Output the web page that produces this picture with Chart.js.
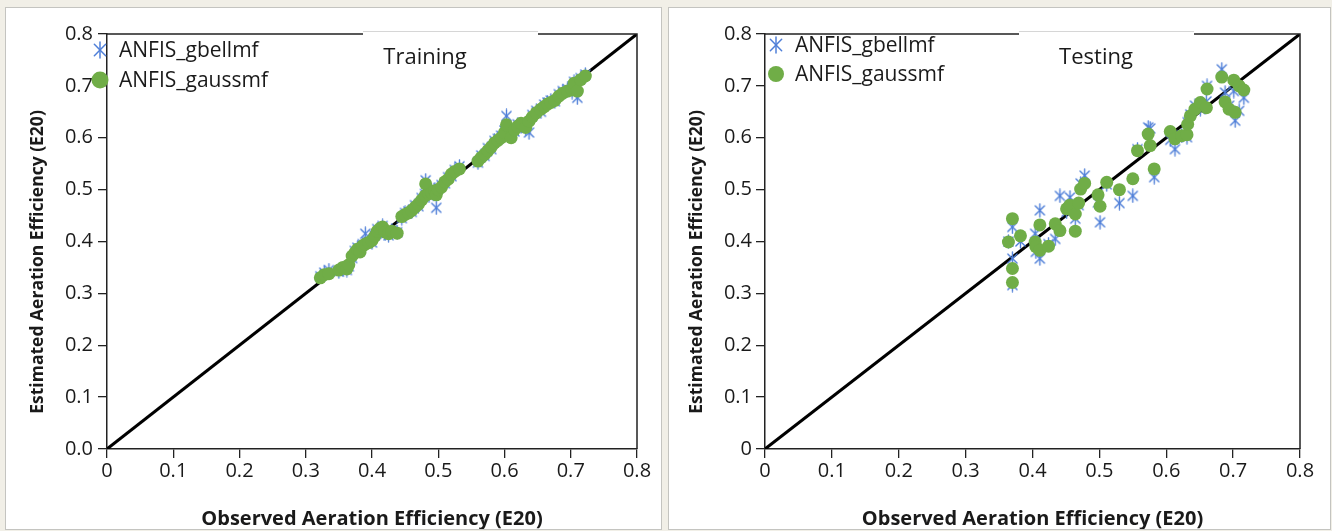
<!DOCTYPE html>
<html>
<head>
<meta charset="utf-8">
<script src="https://cdn.jsdelivr.net/npm/chart.js@4.4.1/dist/chart.umd.min.js"></script>
<style>
  html, body { margin: 0; padding: 0; }
  body { width: 1332px; height: 531px; background: #f1efe7; position: relative; overflow: hidden; }
  .panel { position: absolute; top: 7px; height: 521px; background: #fff; border: 1px solid #c4c4c0; }
  #p1 { left: 5px; width: 655px; }
  #p2 { left: 668px; width: 661px; }
  canvas { display: block; }
</style>
</head>
<body>
<div class="panel" id="p1"><canvas id="trainChart" width="655" height="521"></canvas></div>
<div class="panel" id="p2"><canvas id="testChart" width="661" height="521"></canvas></div>
<script>
const tickValues = [0, 0.1, 0.2, 0.3, 0.4, 0.5, 0.6, 0.7, 0.8];
const xTickLabels = ['0', '0.1', '0.2', '0.3', '0.4', '0.5', '0.6', '0.7', '0.8'];
const yTickLabelsTraining = ['0.0', '0.1', '0.2', '0.3', '0.4', '0.5', '0.6', '0.7', '0.8'];
const yTickLabelsTesting = ['0', '0.1', '0.2', '0.3', '0.4', '0.5', '0.6', '0.7', '0.8'];
const seriesNames = ['ANFIS_gbellmf', 'ANFIS_gaussmf'];
const refLine = [0, 0.8];

// Training: observed vs estimated
const trainObs = [0.322, 0.328, 0.335, 0.350, 0.356, 0.362, 0.365, 0.370, 0.374, 0.378, 0.382, 0.386, 0.390, 0.395,
  0.400, 0.404, 0.408, 0.412, 0.416, 0.420, 0.425, 0.430, 0.438, 0.445, 0.450, 0.455, 0.460, 0.465, 0.470, 0.475,
  0.480, 0.481, 0.486, 0.490, 0.495, 0.497, 0.500, 0.505, 0.510, 0.515, 0.520, 0.525, 0.532, 0.560, 0.565, 0.570,
  0.575, 0.580, 0.585, 0.590, 0.595, 0.600, 0.603, 0.610, 0.615, 0.620, 0.625, 0.632, 0.637, 0.642, 0.648, 0.655,
  0.660, 0.665, 0.670, 0.676, 0.682, 0.688, 0.695, 0.702, 0.705, 0.710, 0.715, 0.722];
const trainGauss = [0.330, 0.336, 0.338, 0.345, 0.350, 0.347, 0.355, 0.372, 0.378, 0.385, 0.380, 0.392, 0.395, 0.398,
  0.402, 0.410, 0.420, 0.425, 0.428, 0.418, 0.415, 0.420, 0.416, 0.448, 0.452, 0.455, 0.460, 0.466, 0.472, 0.480,
  0.488, 0.511, 0.492, 0.494, 0.498, 0.490, 0.500, 0.505, 0.515, 0.520, 0.530, 0.535, 0.540, 0.555, 0.562, 0.568,
  0.575, 0.582, 0.590, 0.595, 0.600, 0.610, 0.625, 0.600, 0.615, 0.622, 0.628, 0.620, 0.632, 0.640, 0.648, 0.655,
  0.660, 0.665, 0.668, 0.672, 0.680, 0.686, 0.690, 0.692, 0.705, 0.690, 0.712, 0.719];
const trainGbell = [0.333, 0.340, 0.345, 0.342, 0.346, 0.345, 0.352, 0.368, 0.382, 0.388, 0.384, 0.395, 0.415, 0.400,
  0.398, 0.412, 0.424, 0.420, 0.430, 0.415, 0.412, 0.422, 0.418, 0.445, 0.455, 0.458, 0.457, 0.470, 0.468, 0.484,
  0.492, 0.518, 0.488, 0.497, 0.500, 0.465, 0.503, 0.509, 0.512, 0.524, 0.526, 0.538, 0.545, 0.552, 0.566, 0.565,
  0.580, 0.578, 0.594, 0.598, 0.604, 0.614, 0.642, 0.604, 0.612, 0.626, 0.624, 0.618, 0.610, 0.644, 0.652, 0.650,
  0.664, 0.668, 0.672, 0.670, 0.684, 0.690, 0.694, 0.688, 0.708, 0.677, 0.715, 0.722];

// Testing: observed vs estimated
const testObs = [0.364, 0.370, 0.370, 0.370, 0.382, 0.404, 0.405, 0.411, 0.411, 0.424, 0.434, 0.441, 0.451, 0.456,
  0.464, 0.464, 0.469, 0.472, 0.478, 0.498, 0.501, 0.511, 0.530, 0.550, 0.557, 0.573, 0.576, 0.582, 0.606, 0.613,
  0.623, 0.631, 0.632, 0.636, 0.643, 0.651, 0.660, 0.661, 0.683, 0.688, 0.694, 0.701, 0.703, 0.709, 0.716];
const testGauss = [0.399, 0.444, 0.348, 0.321, 0.411, 0.399, 0.390, 0.432, 0.383, 0.391, 0.434, 0.421, 0.463, 0.470,
  0.420, 0.453, 0.474, 0.501, 0.512, 0.490, 0.468, 0.514, 0.500, 0.521, 0.575, 0.607, 0.585, 0.540, 0.612, 0.598,
  0.604, 0.606, 0.626, 0.642, 0.655, 0.668, 0.658, 0.694, 0.717, 0.669, 0.655, 0.711, 0.649, 0.700, 0.692];
const testGbell = [0.400, 0.428, 0.367, 0.316, 0.400, 0.415, 0.380, 0.460, 0.367, 0.395, 0.405, 0.488, 0.457, 0.485,
  0.444, 0.462, 0.470, 0.512, 0.527, 0.475, 0.437, 0.510, 0.474, 0.488, 0.578, 0.620, 0.618, 0.524, 0.596, 0.578,
  0.605, 0.601, 0.630, 0.645, 0.662, 0.655, 0.670, 0.700, 0.732, 0.687, 0.662, 0.690, 0.633, 0.652, 0.677];

const GREEN = '#70ad47';
const BLUE = '#4f7fd8';
const FONT = "'Open Sans', sans-serif";

function makeStar(size, color, lw) {
  const c = document.createElement('canvas');
  c.width = size; c.height = size;
  const g = c.getContext('2d');
  const r = size / 2 - 1, m = size / 2;
  g.strokeStyle = color; g.lineWidth = lw; g.lineCap = 'round';
  [90, 45, 135].forEach(a => {
    const t = a * Math.PI / 180;
    g.beginPath();
    g.moveTo(m - r * Math.cos(t), m - r * Math.sin(t));
    g.lineTo(m + r * Math.cos(t), m + r * Math.sin(t));
    g.stroke();
  });
  return c;
}

const frameAndLabels = {
  id: 'frameAndLabels',
  afterDraw(chart, args, o) {
    const { ctx, chartArea: a } = chart;
    ctx.save();
    ctx.strokeStyle = '#222';
    ctx.lineWidth = 1.5;
    ctx.beginPath();
    ctx.moveTo(a.left, a.top); ctx.lineTo(a.right, a.top); ctx.lineTo(a.right, a.bottom);
    ctx.stroke();
    // title box sitting on the top border
    ctx.fillStyle = '#fff';
    ctx.fillRect(o.boxLeft, a.top - 3, o.boxWidth, 6);
    ctx.strokeStyle = '#d6d6d6';
    ctx.lineWidth = 1;
    ctx.beginPath();
    ctx.moveTo(o.boxLeft, a.top - 2.5); ctx.lineTo(o.boxLeft + o.boxWidth, a.top - 2.5);
    ctx.stroke();
    ctx.fillStyle = '#1a1a1a';
    ctx.font = '22px ' + FONT;
    ctx.textAlign = 'center';
    ctx.textBaseline = 'middle';
    ctx.fillText(o.title, o.titleX, a.top + 24);
    // legend
    ctx.textAlign = 'left';
    ctx.font = '21px ' + FONT;
    const star = makeStar(o.starSize, BLUE, 1.5);
    ctx.drawImage(star, a.left + o.legX - o.starSize / 2, a.top + o.legY1 - o.starSize / 2);
    ctx.fillText(seriesNames[0], a.left + o.textX, a.top + o.legY1 + 1);
    ctx.fillStyle = GREEN;
    ctx.beginPath();
    ctx.arc(a.left + o.legX, a.top + o.legY2, o.dotR, 0, Math.PI * 2);
    ctx.fill();
    ctx.fillStyle = '#1a1a1a';
    ctx.fillText(seriesNames[1], a.left + o.textX, a.top + o.legY2 + 1);
    ctx.restore();
  }
};

function drawScatter(canvasId, obs, gbell, gauss, yLabels, layoutOpts, frameOpts) {
  const ctx = document.getElementById(canvasId).getContext('2d');
  const starImg = makeStar(15, BLUE, 1.4);
  new Chart(ctx, {
    type: 'scatter',
    data: {
      datasets: [
        {
          label: seriesNames[1],
          data: obs.map((x, i) => ({ x: x, y: gauss[i] })),
          pointStyle: 'circle',
          pointRadius: 6.5,
          backgroundColor: GREEN,
          borderColor: GREEN,
          borderWidth: 0,
          order: 1
        },
        {
          label: seriesNames[0],
          data: obs.map((x, i) => ({ x: x, y: gbell[i] })),
          pointStyle: starImg,
          pointRadius: 7,
          order: 2
        },
        {
          type: 'line',
          label: 'line',
          data: refLine.map(v => ({ x: v, y: v })),
          borderColor: '#000',
          borderWidth: 3,
          pointRadius: 0,
          order: 3
        }
      ]
    },
    options: {
      responsive: false,
      animation: false,
      events: [],
      layout: { padding: { top: 26, right: layoutOpts.right, left: 0, bottom: 0 } },
      plugins: {
        legend: { display: false },
        tooltip: { enabled: false },
        frameAndLabels: frameOpts
      },
      scales: {
        x: {
          type: 'linear',
          min: 0, max: 0.8,
          afterBuildTicks: s => { s.ticks = tickValues.map(v => ({ value: v })); },
          afterFit: s => { s.height = 80; },
          ticks: {
            callback: (v, i) => xTickLabels[i],
            color: '#1a1a1a',
            font: { family: FONT, size: 20 },
            padding: 1,
            maxRotation: 0
          },
          grid: { drawOnChartArea: false, tickLength: 9, color: '#222', lineWidth: 1.3 },
          border: { color: '#222', width: 1.5 },
          title: {
            display: true,
            text: 'Observed Aeration Efficiency (E20)',
            color: '#1a1a1a',
            font: { family: FONT, size: 20, weight: 'bold', lineHeight: 1 },
            padding: { top: 0, bottom: 0 }
          }
        },
        y: {
          type: 'linear',
          min: 0, max: 0.8,
          afterBuildTicks: s => { s.ticks = tickValues.map(v => ({ value: v })); },
          afterFit: s => { s.width = layoutOpts.left; },
          ticks: {
            callback: (v, i) => yLabels[i],
            color: '#1a1a1a',
            font: { family: FONT, size: 20 },
            padding: layoutOpts.tickPad
          },
          grid: { drawOnChartArea: false, tickLength: 9, color: '#222', lineWidth: 1.3 },
          border: { color: '#222', width: 1.5 },
          title: {
            display: true,
            text: 'Estimated Aeration Efficiency (E20)' + ' '.repeat(9),
            color: '#1a1a1a',
            font: { family: FONT, size: 17.5, weight: 'bold', lineHeight: 1 },
            padding: { top: layoutOpts.titlePad, bottom: 0 }
          }
        }
      }
    },
    plugins: [frameAndLabels]
  });
}

drawScatter('trainChart', trainObs, trainGbell, trainGauss, yTickLabelsTraining,
  { left: 101, right: 24, tickPad: 5, titlePad: 23 },
  { title: 'Training', titleX: 419, boxLeft: 357, boxWidth: 175, legX: -7, textX: 12, legY1: 16, legY2: 46, starSize: 18, dotR: 8.5 });

drawScatter('testChart', testObs, testGbell, testGauss, yTickLabelsTesting,
  { left: 96, right: 30, tickPad: 4, titlePad: 19 },
  { title: 'Testing', titleX: 427, boxLeft: 350, boxWidth: 175, legX: 11, textX: 30, legY1: 11, legY2: 40, starSize: 18, dotR: 8 });
</script>
</body>
</html>
